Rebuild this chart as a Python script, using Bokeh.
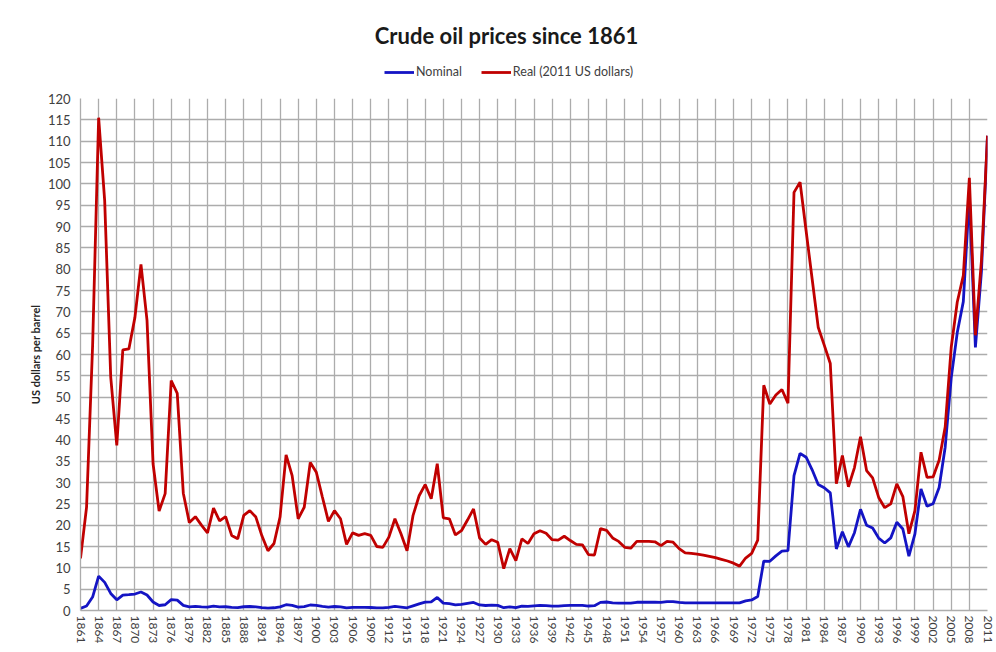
from bokeh.plotting import figure
from bokeh.models import Range1d, FixedTicker, Legend, LegendItem, Label
from bokeh.layouts import column
from bokeh.embed import file_html
from bokeh.resources import INLINE

years = list(range(1861, 2012))

nominal = [
    0.49, 1.05, 3.15, 8.06, 6.59, 4.0, 2.5, 3.62, 3.7, 3.86,          # 1861-1870
    4.34, 3.64, 2.0, 1.17, 1.35, 2.56, 2.42, 1.19, 0.86, 0.95,        # 1871-1880
    0.86, 0.78, 1.00, 0.84, 0.88, 0.71, 0.67, 0.88, 0.94, 0.87,       # 1881-1890
    0.67, 0.56, 0.64, 0.84, 1.36, 1.18, 0.79, 0.91, 1.29, 1.19,       # 1891-1900
    0.96, 0.80, 0.94, 0.86, 0.62, 0.73, 0.72, 0.72, 0.70, 0.61,       # 1901-1910
    0.61, 0.74, 0.95, 0.81, 0.64, 1.10, 1.56, 1.98, 2.01, 3.07,       # 1911-1920
    1.73, 1.61, 1.34, 1.43, 1.68, 1.88, 1.30, 1.17, 1.27, 1.19,       # 1921-1930
    0.65, 0.87, 0.67, 1.00, 0.97, 1.09, 1.18, 1.13, 1.02, 1.02,       # 1931-1940
    1.14, 1.19, 1.20, 1.21, 1.05, 1.12, 1.90, 1.99, 1.78, 1.71,       # 1941-1950
    1.71, 1.71, 1.93, 1.93, 1.93, 1.93, 1.90, 2.08, 2.08, 1.90,       # 1951-1960
    1.80, 1.80, 1.80, 1.80, 1.80, 1.80, 1.80, 1.80, 1.80, 1.80,       # 1961-1970
    2.24, 2.48, 3.29, 11.58, 11.53, 12.80, 13.92, 14.02, 31.61, 36.83,  # 1971-1980
    35.93, 32.97, 29.55, 28.78, 27.56, 14.43, 18.44, 14.92, 18.23, 23.73,  # 1981-1990
    20.00, 19.32, 16.97, 15.82, 17.02, 20.67, 19.09, 12.72, 17.97, 28.50,  # 1991-2000
    24.44, 25.02, 28.83, 38.27, 54.52, 65.14, 72.39, 97.26, 61.67, 79.50,  # 2001-2010
    111.26,                                                            # 2011
]

real = [
    12.2, 24.2, 62.0, 115.5, 96.0, 54.7, 38.7, 61.1, 61.3, 68.7,      # 1861-1870
    81.1, 68.0, 34.4, 23.3, 27.4, 53.9, 50.9, 27.5, 20.6, 22.0,       # 1871-1880
    20.0, 18.2, 24.0, 21.0, 22.0, 17.6, 16.8, 22.3, 23.4, 21.9,       # 1881-1890
    17.5, 14.0, 15.7, 21.9, 36.5, 31.6, 21.5, 24.2, 34.7, 32.4,       # 1891-1900
    26.6, 20.9, 23.4, 21.5, 15.5, 18.2, 17.6, 18.0, 17.6, 15.0,       # 1901-1910
    14.8, 17.2, 21.5, 18.0, 14.0, 22.3, 26.9, 29.5, 26.2, 34.4,       # 1911-1920
    21.7, 21.5, 17.7, 18.7, 21.2, 23.8, 17.0, 15.5, 16.6, 16.0,       # 1921-1930
    9.8, 14.5, 11.7, 16.8, 15.7, 18.0, 18.7, 18.1, 16.6, 16.5,        # 1931-1940
    17.4, 16.4, 15.5, 15.4, 13.1, 13.0, 19.2, 18.8, 17.0, 16.2,       # 1941-1950
    14.8, 14.6, 16.2, 16.2, 16.2, 16.1, 15.2, 16.2, 16.0, 14.5,       # 1951-1960
    13.5, 13.4, 13.2, 13.0, 12.7, 12.4, 12.0, 11.6, 11.1, 10.4,       # 1961-1970
    12.3, 13.4, 16.5, 52.8, 48.4, 50.5, 51.8, 48.6, 98.0, 100.4,      # 1971-1980
    89.0, 77.7, 66.4, 62.2, 57.9, 29.7, 36.3, 29.0, 33.5, 40.7,       # 1981-1990
    32.8, 31.1, 26.5, 24.1, 25.0, 29.7, 26.7, 18.0, 23.4, 37.1,       # 1991-2000
    31.2, 31.3, 35.2, 43.0, 61.7, 72.3, 78.5, 101.4, 64.5, 82.0,      # 2001-2010
    111.3,                                                             # 2011
]

y_ticks = list(range(0, 121, 5))
x_ticks = list(range(1861, 2012, 3))

title_text = "Crude oil prices since 1861"
y_label = "US dollars per barrel"
series_labels = ["Nominal", "Real (2011 US dollars)"]
series_colors = ["#1414c4", "#c00000"]

FONT = "Lato"
GRID = "#acacac"
TXT = "#404040"
W = 994
LEFT, RIGHT = 80, 7
HEAD_H = 88
TOP, FRAME_H, BOTTOM = 10, 512, 42

# ---- header: title + legend; its frame is aligned with the chart frame,
#      and its ranges are set so that one data unit = one pixel ----
head = figure(width=W, height=HEAD_H, output_backend="svg", toolbar_location=None,
              x_range=Range1d(LEFT, W - RIGHT), y_range=Range1d(HEAD_H, 0),
              min_border_left=LEFT, min_border_right=RIGHT,
              min_border_top=0, min_border_bottom=0,
              x_axis_type=None, y_axis_type=None)
head.outline_line_color = None
head.grid.visible = False

head.add_layout(Label(x=506, y=35, text=title_text, text_align="center",
                      text_baseline="middle", text_font=FONT,
                      text_font_size="22px", text_font_style="bold",
                      text_color="#1a1a1a"))

# legend swatches: same series, drawn outside the header's visible range
h1 = head.line(years, nominal, line_color=series_colors[0], line_width=2.8)
h2 = head.line(years, real, line_color=series_colors[1], line_width=2.8)
legend = Legend(items=[LegendItem(label=series_labels[0], renderers=[h1]),
                       LegendItem(label=series_labels[1], renderers=[h2])],
                location=(304, 9), orientation="horizontal",
                border_line_color=None, background_fill_alpha=0,
                padding=2, margin=0, spacing=19, label_standoff=2,
                glyph_width=30, glyph_height=12, label_height=12,
                label_text_font=FONT, label_text_font_size="12.5px",
                label_text_color=TXT)
head.add_layout(legend)

# ---- main chart ----
p = figure(width=W, height=TOP + FRAME_H + BOTTOM, output_backend="svg",
           toolbar_location=None,
           x_range=Range1d(1861, 2011), y_range=Range1d(0, 120),
           min_border_left=LEFT, min_border_right=RIGHT, min_border_top=TOP,
           min_border_bottom=BOTTOM)
p.outline_line_color = None

p.line(years, nominal, line_color=series_colors[0], line_width=2.8)
p.line(years, real, line_color=series_colors[1], line_width=2.8)

p.xaxis.ticker = FixedTicker(ticks=x_ticks)
p.yaxis.ticker = FixedTicker(ticks=y_ticks)
p.xgrid.ticker = FixedTicker(ticks=x_ticks)
p.ygrid.ticker = FixedTicker(ticks=y_ticks)
for g in (p.xgrid, p.ygrid):
    g.grid_line_color = GRID
    g.grid_line_width = 1.3

for ax in (p.xaxis, p.yaxis):
    ax.axis_line_color = GRID
    ax.axis_line_width = 1.3
    ax.major_tick_line_color = None
    ax.minor_tick_line_color = None
    ax.major_tick_out = 0
    ax.major_tick_in = 0
    ax.minor_tick_out = 0
    ax.minor_tick_in = 0
    ax.major_label_text_font = FONT
    ax.major_label_text_color = TXT

p.xaxis.major_label_orientation = "vertical"
p.xaxis.major_label_text_font_size = "12px"
p.xaxis.major_label_standoff = 5
p.yaxis.major_label_text_font_size = "13px"
p.yaxis.major_label_standoff = 10
p.yaxis.axis_label = y_label
p.yaxis.axis_label_text_font = FONT
p.yaxis.axis_label_text_font_size = "11px"
p.yaxis.axis_label_text_font_style = "bold"
p.yaxis.axis_label_text_color = "#262626"
p.yaxis.axis_label_standoff = 3

layout = column(head, p, spacing=0)
open("out.html", "w").write(file_html(layout, INLINE))
